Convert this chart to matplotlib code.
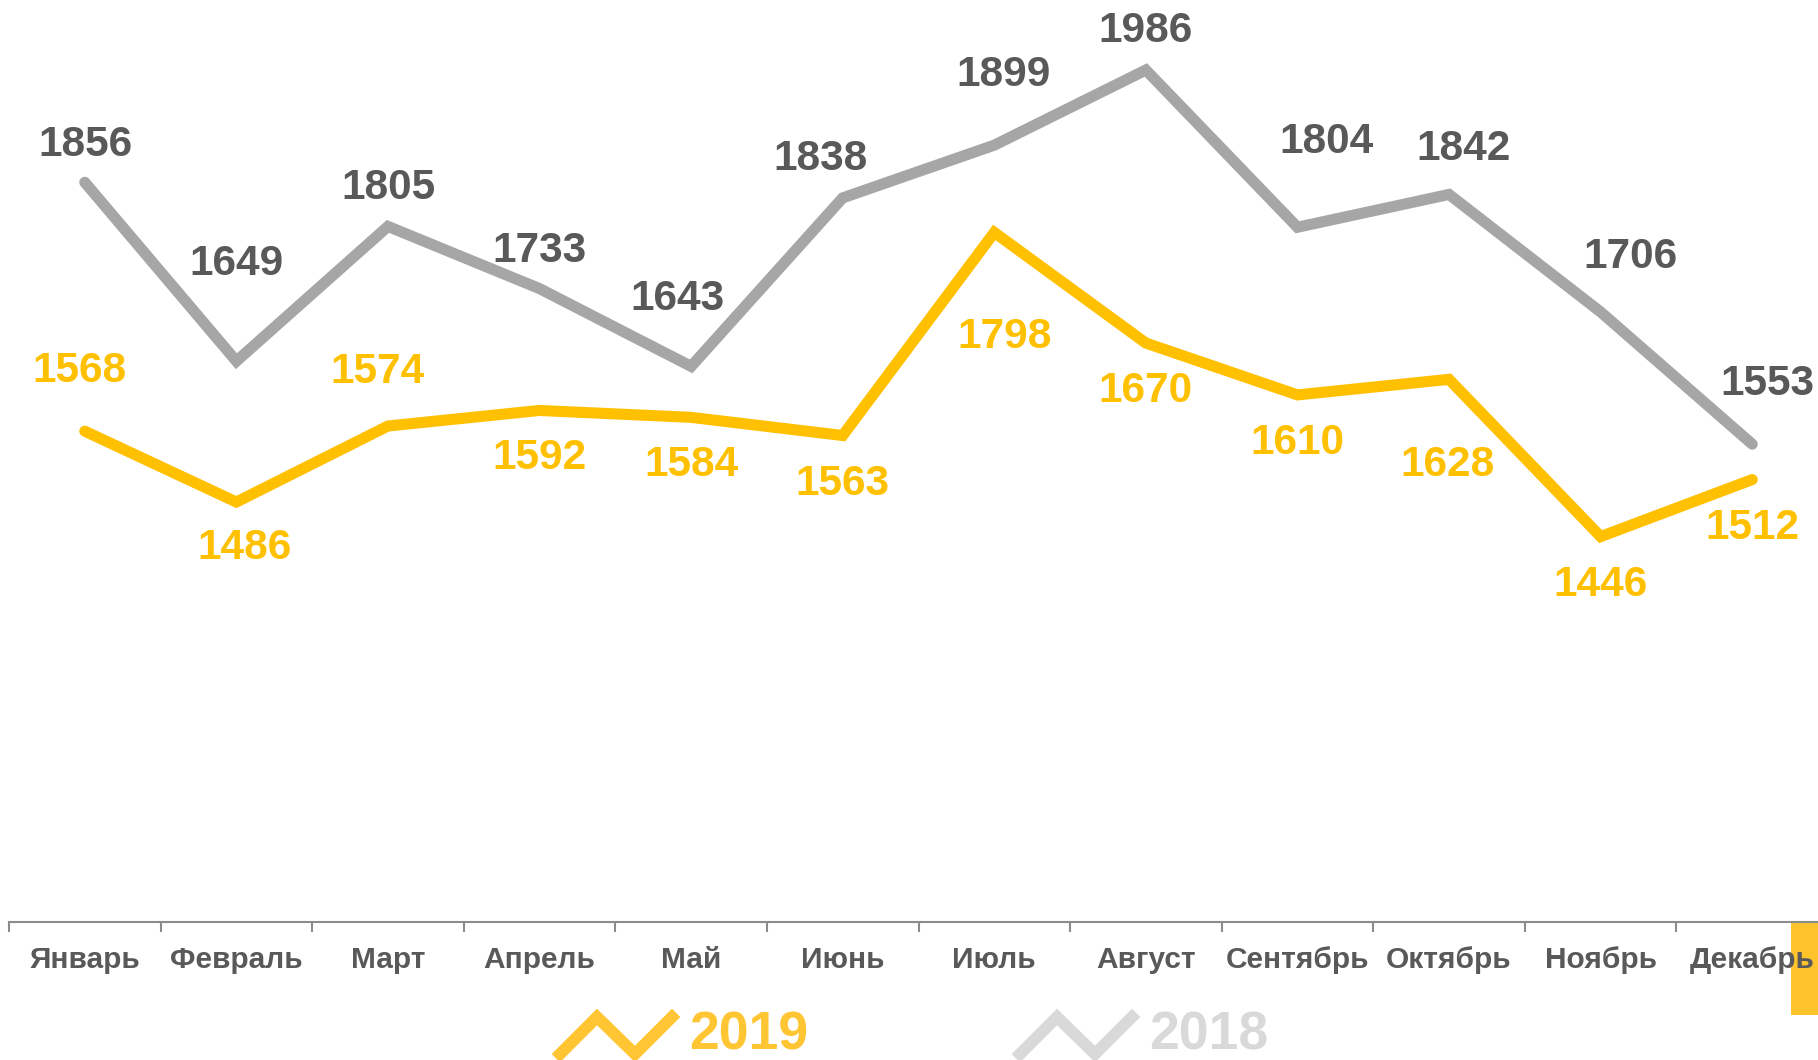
import matplotlib
matplotlib.use("Agg")
import matplotlib.pyplot as plt
from matplotlib.lines import Line2D
from matplotlib.patches import Rectangle
import numpy as np

months = ["Январь", "Февраль", "Март", "Апрель", "Май", "Июнь",
          "Июль", "Август", "Сентябрь", "Октябрь", "Ноябрь", "Декабрь"]
values_2018 = [1856, 1649, 1805, 1733, 1643, 1838, 1899, 1986, 1804, 1842, 1706, 1553]
values_2019 = [1568, 1486, 1574, 1592, 1584, 1563, 1798, 1670, 1610, 1628, 1446, 1512]

# label offsets in pixels (dx, dy)
offs_2018 = [(1, 37), (0, 97), (0, 38), (0, 38), (-14, 67), (-22, 39),
             (9, 70), (0, 39), (29, 85), (15, 45), (30, 55), (15, 60)]
offs_2019 = [(-5, 60), (8, -46), (-10, 54), (0, -48), (0, -48), (0, -48),
             (10, -105), (0, -48), (0, -48), (-2, -86), (0, -48), (0, -48)]

W, H = 1818, 1060
fig = plt.figure(figsize=(W / 100, H / 100), dpi=100)
font = "Liberation Sans"

ax = fig.add_axes([9 / W, 138 / H, 1819 / W, 922 / H])
x = np.arange(len(months))

ax.plot(x, values_2018, color="#A6A6A6", lw=8, solid_joinstyle="miter",
        solid_capstyle="round", zorder=3)
ax.plot(x, values_2019, color="#FFC000", lw=8, solid_joinstyle="miter",
        solid_capstyle="round", zorder=4)

for xi, v, (dx, dy) in zip(x, values_2018, offs_2018):
    ax.annotate(str(v), (xi, v), xytext=(dx, dy), textcoords="offset pixels",
                ha="center", va="center", fontsize=30.5, fontweight="bold",
                family=font, color="#595959", annotation_clip=False)
for xi, v, (dx, dy) in zip(x, values_2019, offs_2019):
    ax.annotate(str(v), (xi, v), xytext=(dx, dy), textcoords="offset pixels",
                ha="center", va="center", fontsize=30.5, fontweight="bold",
                family=font, color="#FFC000", annotation_clip=False)

ax.set_xlim(-0.5, 11.5)
ax.set_ylim(1000, 2067)

for s in ["top", "right", "left"]:
    ax.spines[s].set_visible(False)
ax.spines["bottom"].set_color("#8C8C8C")
ax.spines["bottom"].set_linewidth(1.5)
ax.set_yticks([])

ax.set_xticks(np.arange(-0.5, 12, 1.0))
ax.set_xticklabels([])
ax.tick_params(axis="x", which="major", direction="out", length=7,
               width=1.5, color="#8C8C8C")
ax.set_xticks(x, minor=True)
ax.set_xticklabels(months, minor=True, fontsize=21.5, fontweight="bold",
                   family=font, color="#595959")
ax.tick_params(axis="x", which="minor", length=0, pad=17)

# yellow tab at the bottom right, behind the axis labels
fig.patches.append(Rectangle((1791 / W, (H - 1015) / H), 27 / W, 105 / H,
                             transform=fig.transFigure, facecolor="#FFC32B",
                             edgecolor="none", zorder=-1))

# custom legend with zigzag markers
def zigzag(x0, color):
    xs = np.array([x0, x0 + 37, x0 + 75, x0 + 112]) / W
    ys = (H - np.array([1054, 1017, 1054, 1017])) / H
    fig.add_artist(Line2D(xs, ys, color=color, lw=8.5, transform=fig.transFigure,
                          solid_joinstyle="miter"))

zigzag(560, "#FFC532")
fig.text(689 / W, (H - 1049) / H, "2019", fontsize=38.5, fontweight="bold",
         family=font, color="#FFC532", ha="left", va="baseline")
zigzag(1020, "#D9D9D9")
fig.text(1149 / W, (H - 1049) / H, "2018", fontsize=38.5, fontweight="bold",
         family=font, color="#D9D9D9", ha="left", va="baseline")

fig.savefig("out.png", dpi=100)
